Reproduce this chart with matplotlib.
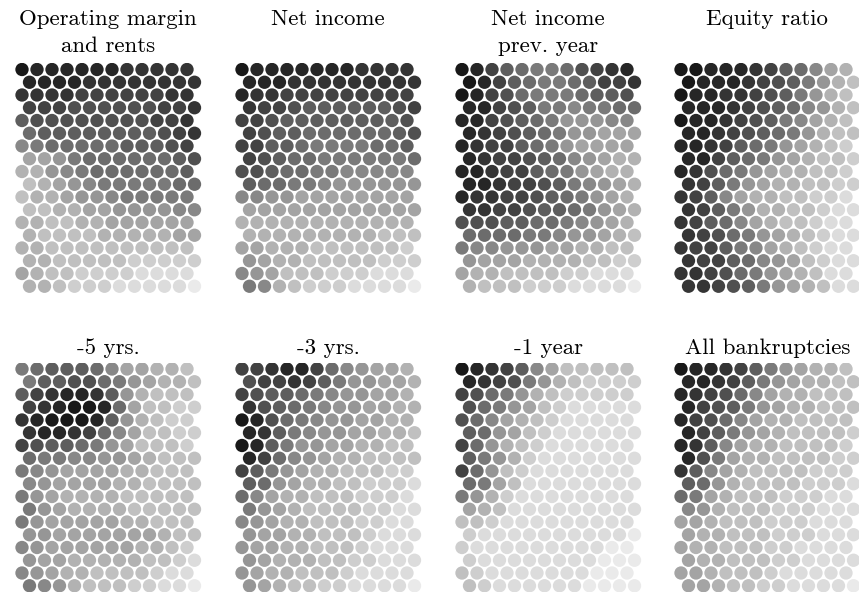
import matplotlib
matplotlib.use("Agg")
import matplotlib.pyplot as plt
import numpy as np

# Component planes of a 12 x 18 hexagonal SOM.
# Each string is one map row, each hex digit one unit (0 = darkest, f = lightest).
titles = [
    "Operating margin\nand rents", "Net income", "Net income\nprev. year", "Equity ratio",
    "-5 yrs.", "-3 yrs.", "-1 year", "All bankruptcies",
]

operating_margin = [
    "011111122222", "111122222222", "222233333322", "333444444332",
    "544444444332", "655555555432", "876666655543", "aa9766666654",
    "bb9876666665", "cba987777766", "cbba99877777", "ccbbaa999988",
    "bbccbbaaaaaa", "bccccbbbbbaa", "bbcccccccccc", "bbcccccddddd",
    "abccddddeeee", "bbcdddeeeeef",
]
net_income = [
    "011111112222", "111222222222", "122333333333", "233455555543",
    "334555555554", "345566666654", "335567777665", "345667777776",
    "445667788888", "566778999999", "8899aaaaaaaa", "aaaaaaaaaaaa",
    "bbbbbbbbbbbb", "bbbbbbbbbccc", "aabbbccccccd", "9abbcccccddd",
    "89acccdddeee", "78bcdddeeeef",
]
net_income_prev = [
    "013567764321", "013567765332", "013467776554", "113457787766",
    "113456799988", "123456799aaa", "12335679aaaa", "123345689abb",
    "112335679abb", "1123345789ab", "1223345679ab", "2233455679ab",
    "4445566789ab", "666677899abc", "788999aabbcc", "9aaabbbbccdd",
    "abbccccddeee", "bcccdddeeeef",
]
equity_ratio = [
    "0011123568ab", "0111234579bc", "0112234579bc", "1112345689bc",
    "011234578abc", "112345679bcc", "11235679abcd", "1135679abccd",
    "124679abbccd", "23579abbccdd", "2358abbccdde", "23579bbccdee",
    "23568abccdee", "234679abcdee", "233578abcdee", "2335689acdee",
    "2234679abcee", "2234579abcee",
]
minus_5_yrs = [
    "7655568aabbc", "75544679abbc", "53211259bccc", "3210016accdd",
    "21000159bcdd", "2112368accdd", "3455679acccd", "6778899abccc",
    "789aaaabbccc", "89aaaabbcccc", "79abbbbccccc", "79abbbbccccc",
    "79aaaaabbccc", "99aaaaaaabcc", "89aaaaaabbcd", "9aabbbbbccde",
    "89abbccccdee", "789bcccddeef",
]
minus_3_yrs = [
    "332113689aab", "433235799aab", "345567899aab", "24567899aabb",
    "01467899aabb", "1257899aabbc", "015799aabbcc", "13689abbcccc",
    "3579abbcccdd", "569abbccddde", "68abbcccddde", "79abccccddee",
    "89abbcccddee", "9aabbcccdeee", "9aabbcccdeee", "9abbbccddeee",
    "9abbcccdeeee", "9abccddeeeef",
]
minus_1_year = [
    "012358accccc", "123479bcdddd", "34679bcddddd", "4679acdeeeee",
    "468abcdeeeee", "569acdeeeeee", "369bcdeeeeee", "579bdeeeeeee",
    "369cdeeeeeee", "67aceeeeeeee", "79bdeeeeeeee", "abceeeeeeeee",
    "ccdeeeeeeeee", "deeeeeeeeeef", "deeeeeeeeeff", "deeeeeeeefff",
    "cdeeeeeeefff", "cdeeeeeeffff",
]
all_bankruptcies = [
    "01123579abbc", "1123579abbcc", "123468abbccc", "134579abbccc",
    "13468abbcccc", "13579abccccd", "1258abbccccd", "147abbccccdd",
    "258abccccddd", "569bccccddde", "67abcccdddee", "89bcccdddeee",
    "aabcccdddeee", "abbcccdddeee", "abbcccddeeee", "abbcccddeeee",
    "aabcccdeeeee", "aabccddeeeef",
]

planes = [operating_margin, net_income, net_income_prev, equity_ratio,
          minus_5_yrs, minus_3_yrs, minus_1_year, all_bankruptcies]


def decode(rows):
    return np.array([[int(ch, 16) for ch in r] for r in rows], dtype=float)


W, H, DPI = 859, 592, 100
fig = plt.figure(figsize=(W / DPI, H / DPI), dpi=DPI)
fig.patch.set_facecolor("white")

n_rows, n_cols = 18, 12
dx, dy = 15.0, 12.75          # pixel spacing between neighbouring units
col0 = [22, 242, 462, 681]    # pixel x of the first unit in each panel column
row0 = [69.5, 369.0]          # pixel y of the first map row in each panel row
title_base = [25.0, 354.0]    # pixel y of the first title line's baseline

rr, cc = np.meshgrid(np.arange(n_rows), np.arange(n_cols), indexing="ij")
xs = cc + 0.5 * (rr % 2)
ys = rr

for k, (rows, title) in enumerate(zip(planes, titles)):
    pr, pc = divmod(k, 4)
    vals = decode(rows)
    left = col0[pc] - dx / 2
    top = row0[pr] - dy / 2
    w = 12.5 * dx
    h = n_rows * dy
    ax = fig.add_axes([left / W, 1 - (top + h) / H, w / W, h / H])
    ax.scatter(xs.ravel(), ys.ravel(), c=vals.ravel(), cmap="gray",
               vmin=-24 / 14, vmax=231 / 14, s=92, linewidths=0)
    ax.set_xlim(-0.5, 12.0)
    ax.set_ylim(n_rows - 0.5, -0.5)
    ax.axis("off")
    # first line on its baseline, optional second line 27 px lower
    lines = title.split("\n")
    for i, line in enumerate(lines):
        fig.text((left + w / 2) / W, 1 - (title_base[pr] + 27 * i) / H, line,
                 ha="center", va="baseline", family="cmr10", fontsize=16.5)

fig.savefig("out.png", dpi=DPI, facecolor="white")
